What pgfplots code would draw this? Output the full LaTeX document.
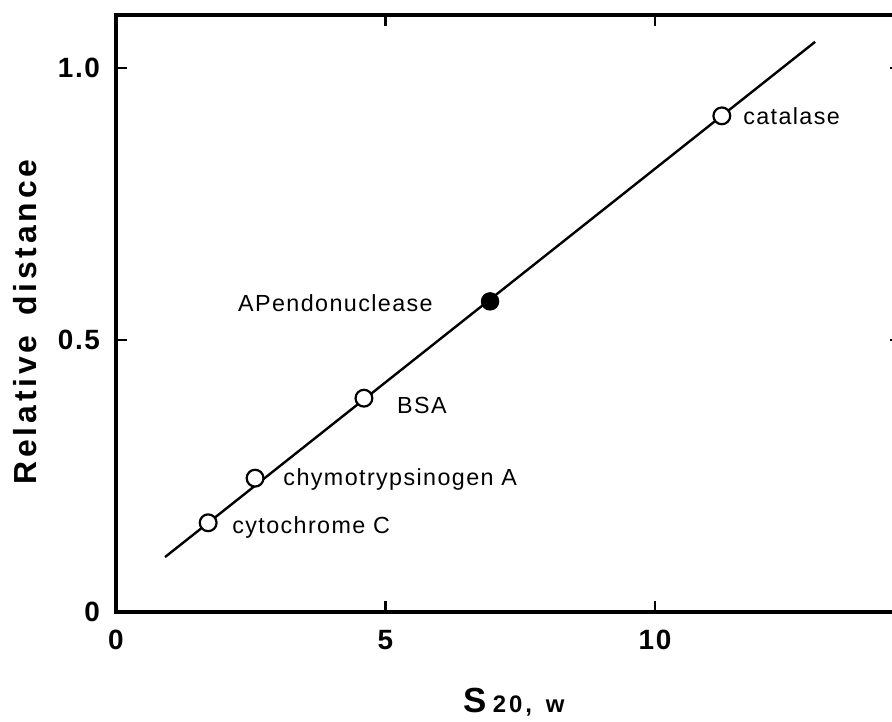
\documentclass[border=0pt]{standalone}
\usepackage{fontspec}
\setmainfont{Liberation Sans}
\newfontfamily\labfont[LetterSpace=6]{Liberation Sans}
\newfontfamily\ylabfont[LetterSpace=12]{Liberation Sans}
\usepackage{pgfplots}
\pgfplotsset{compat=1.18}
\usetikzlibrary{calc}
\begin{document}
\begin{tikzpicture}
\begin{axis}[name=ax, scale only axis, width=392.5bp, height=298.5bp,
 xmin=0, xmax=14.564, ymin=0, ymax=1.0974,
 xtick={0,5,10}, xticklabels={0,5,10},
 ytick={0,0.5,1}, yticklabels={0,0.5,1.0},
 tick align=inside, major tick length=5.5bp,
 tick style={black, line width=1.4bp},
 axis line style={line width=1.6bp},
 /pgf/number format/assume math mode=true,
 tick label style={font=\labfont\fontsize{14}{14}\selectfont\bfseries},
 xticklabel style={yshift=-5.5bp},
 yticklabel style={xshift=-4.5bp},
 clip=false,
]
\addplot[black, line width=1.2bp] coordinates {(0.91,0.101) (12.97,1.048)};
\addplot[only marks, mark=*, mark size=4.2bp, mark options={fill=white, draw=black, line width=1.1bp}] coordinates {(1.71,0.164) (2.58,0.246) (4.60,0.393) (11.24,0.912)};
\addplot[only marks, mark=*, mark size=4.4bp, mark options={fill=black, draw=black}] coordinates {(6.94,0.571)};
\begin{scope}[every node/.style={inner sep=0pt, font=\labfont\fontsize{11.7}{13}\selectfont}]
\node[anchor=west] at (axis cs:11.63,0.912) {catalase};
\node[anchor=west] at (axis cs:2.15,0.156) {cytochrome C};
\node[anchor=west] at (axis cs:3.10,0.243) {chymotrypsinogen A};
\node[anchor=west] at (axis cs:5.21,0.380) {BSA};
\node[anchor=west] at (axis cs:2.26,0.568) {APendonuclease};
\end{scope}
\node[rotate=90, inner sep=0pt, font=\ylabfont\fontsize{16}{18}\selectfont\bfseries] at (axis cs:-1.69,0.533) {Relative\hspace{10bp}distance};
\node[anchor=base west, inner sep=0pt] at (axis cs:6.44,-0.184) {{\fontsize{17.5}{17}\selectfont\bfseries S}\kern3bp{\ylabfont\fontsize{12}{12}\selectfont\bfseries 2\kern1.5bp 0\kern1.5bp,\kern7bp w}};
\end{axis}
\pgfresetboundingbox
\path[use as bounding box] ($(ax.south west)+(-58bp,-55bp)$) rectangle ($(ax.north east)+(-4.5bp,7.5bp)$);
\end{tikzpicture}
\end{document}
